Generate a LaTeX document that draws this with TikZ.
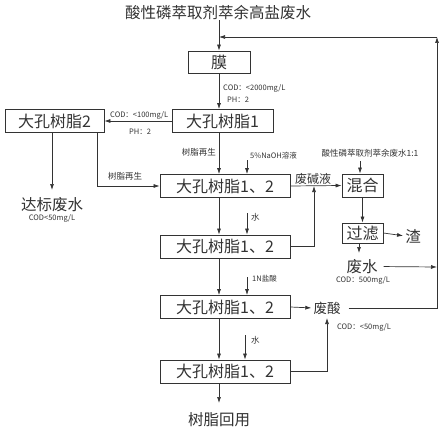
\documentclass[tikz,border=0pt]{standalone}
\usepackage{fontspec}
\setmainfont{Noto Sans CJK SC}
\usetikzlibrary{arrows.meta}
\definecolor{ink}{HTML}{333333}
\begin{document}
\begin{tikzpicture}[x=1pt,y=-1pt,
  box/.style={draw=ink, line width=0.8pt, minimum height=23pt, inner sep=0pt, font=\fontsize{16}{16}\selectfont, text=ink},
  big/.style={font=\fontsize{15.5}{15.5}\selectfont, text=ink, inner sep=0pt},
  mid/.style={font=\fontsize{12}{12}\selectfont, text=ink, inner sep=0pt},
  small/.style={font=\fontsize{7.5}{7.5}\selectfont, text=ink, inner sep=0pt},
  smallcn/.style={font=\fontsize{8.5}{8.5}\selectfont, text=ink, inner sep=0pt},
  line/.style={draw=ink, line width=0.7pt},
  arr/.style={line, -{Latex[length=6pt,width=4pt]}},
]
\useasboundingbox[fill=white] (0,0) rectangle (444,433);

% nodes
\node[big] (title) at (218,13) {酸性磷萃取剂萃余高盐废水};
\node[box, minimum width=62pt, minimum height=22pt] (mo) at (219,62) {膜};
\node[box, minimum width=101pt] (r1) at (222.5,121) {大孔树脂1};
\node[box, minimum width=99pt] (r2) at (54.5,121) {大孔树脂2};
\node[box, minimum width=130pt] (b3) at (225,186) {大孔树脂1、2};
\node[box, minimum width=130pt] (b4) at (225,246.5) {大孔树脂1、2};
\node[box, minimum width=130pt] (b5) at (225,307) {大孔树脂1、2};
\node[box, minimum width=130pt] (b6) at (225,371.5) {大孔树脂1、2};
\node[box, minimum width=41pt] (mix) at (362.5,185.5) {混合};
\node[box, minimum width=41pt, minimum height=20pt] (filt) at (362.5,233) {过滤};
\node[big] (zha) at (413,236) {渣};
\node[big] (fs) at (362,266.5) {废水};
\node[big, font=\fontsize{13.5}{13.5}\selectfont] (fsuan) at (327,308) {废酸};
\node[big] (dab) at (52,205) {达标废水};
\node[big] (reuse) at (219,420) {树脂回用};

% labels
\node[small, anchor=west] (l1) at (223,88) {COD：<2000mg/L};
\node[small, anchor=west] (l2) at (227,99.5) {PH：2};
\node[small, anchor=west] (l3) at (110,115.5) {COD：<100mg/L};
\node[small] (l4) at (140,132) {PH：2};
\node[smallcn, anchor=east] (l5) at (216,152) {树脂再生};
\node[smallcn] (l6) at (125,176) {树脂再生};
\node[small] (l7) at (52,218.5) {COD<50mg/L};
\node[small, anchor=west] (l8) at (250,156) {5\%NaOH溶液};
\node[smallcn] (l9) at (370,153) {酸性磷萃取剂萃余废水1:1};
\node[mid] (l10) at (313,179) {废碱液};
\node[smallcn, anchor=west] (l11) at (251,217) {水};
\node[small, anchor=west] (l12) at (252,279) {1N盐酸};
\node[smallcn, anchor=west] (l13) at (251,340) {水};
\node[small] (l14) at (363,280.5) {COD：500mg/L};
\node[small] (l15) at (364,327) {COD：<50mg/L};

% coordinates
\coordinate (mj) at (219,37);
\coordinate (rt) at (437,37);
\coordinate (rb) at (437,308);
\coordinate (rw) at (437,267);
\coordinate (d1) at (52,190);
\coordinate (n1) at (247,160);
\coordinate (n2) at (247,213);
\coordinate (n3) at (247,277);
\coordinate (n4) at (245,335);
\coordinate (m1) at (360,161);
\coordinate (j1) at (314,186);
\coordinate (j2) at (327,318);
\coordinate (f1) at (359,243);
\coordinate (f2) at (359,253);
\coordinate (rs) at (219,403);
\coordinate (r2b) at (97,133);

% connectors
\draw[arr] (title.south -| mj) -- (mj |- mo.north);
\draw[arr] (fsuan.east) ++(8,0) -- (rb) -- (rt);
\draw[arr] (rt) -- (mj);
\draw[arr] (mo.south) -- (mo.south |- r1.north);
\draw[arr] (r1.west) -- (r2.east);
\draw[arr] (mo |- r1.south) -- (mo |- b3.north);
\draw[arr] (r2.south -| d1) -- (d1);
\draw[arr] (r2b) |- (b3.west);
\draw[arr] (mo |- b3.south) -- (mo |- b4.north);
\draw[arr] (mo |- b4.south) -- (mo |- b5.north);
\draw[arr] (mo |- b5.south) -- (mo |- b6.north);
\draw[arr] (mo |- b6.south) -- (rs);
\draw[arr] (n1) -- (n1 |- b3.north);
\draw[arr] (n2) -- (n2 |- b4.north);
\draw[arr] (n3) -- (n3 |- b5.north);
\draw[arr] (n4) -- (n4 |- b6.north);
\draw[arr] (b3.east) -- (mix.west);
\draw[arr] (b4.east) -| (j1);
\draw[arr] (m1) -- (m1 |- mix.north);
\draw[arr] (mix.south) -- (filt.north);
\draw[arr, shorten >=2pt] (filt.east) -- (zha.west);
\draw[arr] (f1) -- (f2);
\draw[arr, shorten <=6pt] (fs.east) -- (rw);
\draw[arr, shorten >=2pt] (b5.east) -- (fsuan.west);
\draw[arr] (b6.east) -| (j2);
\end{tikzpicture}
\end{document}
